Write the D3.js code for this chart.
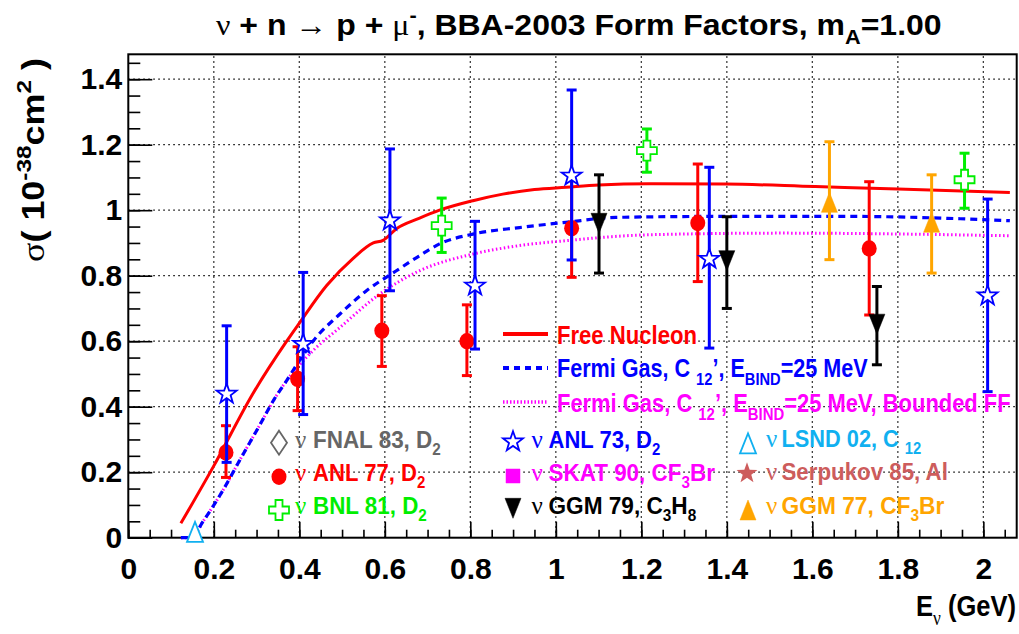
<!DOCTYPE html>
<html><head><meta charset="utf-8">
<script src="https://cdn.jsdelivr.net/npm/d3@7"></script>
<style>body{margin:0;background:#fff}text{white-space:pre}</style>
</head><body><svg id="c" width="1019" height="634"></svg>
<script>
// ---------- data ----------
const xTicksMajor = [0,0.2,0.4,0.6,0.8,1,1.2,1.4,1.6,1.8,2];
const xTickLabels = ["0","0.2","0.4","0.6","0.8","1","1.2","1.4","1.6","1.8","2"];
const yTicksMajor = [0,0.2,0.4,0.6,0.8,1,1.2,1.4];
const yTickLabels = ["0","0.2","0.4","0.6","0.8","1","1.2","1.4"];

const freeE = [0.123,0.199,0.292,0.3705,0.40,0.464,0.526,0.573,0.596,0.627,0.68,0.728,0.806,0.876,0.95,1.024,1.1,1.218,1.397,1.607,1.8,2.062];
const freeS = [0.044,0.217,0.441,0.600,0.655,0.770,0.853,0.900,0.908,0.943,0.975,1.0,1.029,1.049,1.063,1.070,1.077,1.081,1.08,1.072,1.065,1.054];

const fgE = [0.123,0.148,0.175,0.222,0.26,0.308,0.34,0.37,0.4,0.432,0.495,0.557,0.627,0.68,0.728,0.806,0.915,1.024,1.14,1.374,1.685,2.062];
const fgS = [0,0,0.05,0.146,0.235,0.345,0.42,0.479,0.54,0.6,0.683,0.754,0.815,0.86,0.897,0.927,0.947,0.963,0.978,0.981,0.981,0.968];

const bffE = [0.123,0.148,0.175,0.222,0.26,0.308,0.34,0.37,0.432,0.495,0.588,0.681,0.806,0.915,1.024,1.218,1.529,2.062];
const bffS = [0,0,0.05,0.146,0.235,0.345,0.42,0.479,0.571,0.642,0.744,0.815,0.866,0.892,0.907,0.925,0.93,0.922];

const anl73E  = [0.230,0.409,0.612,0.811,1.037,1.359,2.010];
const anl73S  = [0.439,0.591,0.968,0.769,1.105,0.851,0.739];
const anl73Lo = [0.230,0.376,0.754,0.576,0.848,0.579,0.446];
const anl73Hi = [0.647,0.810,1.187,0.966,1.367,1.131,1.034];

const anl77E  = [0.2285,0.396,0.593,0.792,1.037,1.332,1.733];
const anl77S  = [0.260,0.485,0.632,0.600,0.945,0.961,0.883];
const anl77Lo = [0.184,0.388,0.523,0.495,0.795,0.782,0.680];
const anl77Hi = [0.342,0.583,0.739,0.711,1.090,1.141,1.087];

const bnl81E  = [0.733,1.213,1.956];
const bnl81S  = [0.953,1.182,1.093];
const bnl81Lo = [0.871,1.116,1.006];
const bnl81Hi = [1.037,1.248,1.174];

const ggm79E  = [1.101,1.400,1.751];
const ggm79S  = [0.960,0.846,0.652];
const ggm79Lo = [0.808,0.700,0.528];
const ggm79Hi = [1.108,0.980,0.767];

const ggm77E  = [1.640,1.879];
const ggm77S  = [1.024,0.963];
const ggm77Lo = [0.849,0.808];
const ggm77Hi = [1.209,1.108];

const lsndE = [0.156];
const lsndS = [0.018];

// ---------- setup ----------
const SANS = "'Liberation Sans',Arial,sans-serif";
const SERIF = "'Liberation Serif','DejaVu Serif',serif";
const svg = d3.select('#c');
svg.append('rect').attr('width',1019).attr('height',634).attr('fill','#fff');

const x = d3.scaleLinear().domain([0,2.078]).range([128.3,1016.7]);
const y = d3.scaleLinear().domain([0,1.476]).range([537.7,54.3]);

function rich(g, px, py, segs, size, color, anchor){
  const t = g.append('text').attr('x',px).attr('y',py).attr('font-size',size)
    .attr('fill',color).attr('text-anchor',anchor||'start')
    .attr('font-family',SANS).attr('font-weight','bold');
  let shift = 0;
  segs.forEach(([s,m])=>{
    const ts = t.append('tspan').text(s);
    let target = 0;
    if(m.includes('sub')) target = size*0.3;
    if(m.includes('sup')) target = -size*0.42;
    ts.attr('dy', target-shift); shift = target;
    if(target!==0) ts.attr('font-size', size*0.68);
    if(m.includes('g')) ts.attr('font-family',SERIF).attr('font-weight','normal');
  });
  return t;
}
// place rich text and squeeze/stretch it horizontally to a target width
function place(parent, px, py, segs, size, color, anchor, targetW, rot){
  const g = parent.append('g');
  const t = rich(g,0,0,segs,size,color,anchor);
  const w = t.node().getBBox().width;
  const s = targetW && w>0 ? targetW/w : 1;
  g.attr('transform',`translate(${px},${py})${rot?` rotate(${rot})`:''} scale(${s},1)`);
  return g;
}

// ---------- grid ----------
const grid = svg.append('g');
xTicksMajor.slice(1).forEach(v=>{
  grid.append('line').attr('x1',x(v)).attr('x2',x(v)).attr('y1',y.range()[0]).attr('y2',y.range()[1])
    .attr('stroke','#000').attr('stroke-width',1.3).attr('stroke-dasharray','1.5,3.5');
});
yTicksMajor.slice(1).forEach(v=>{
  grid.append('line').attr('x1',x.range()[0]).attr('x2',x.range()[1]).attr('y1',y(v)).attr('y2',y(v))
    .attr('stroke','#000').attr('stroke-width',1.3).attr('stroke-dasharray','1.5,3.5');
});

// ---------- axes ----------
const xMinor = d3.range(0,2.08,0.05).map(v=>+v.toFixed(2));
const yMinor = d3.range(0,1.476,0.05).map(v=>+v.toFixed(2));
const axG = svg.append('g');
axG.append('g').attr('transform',`translate(0,${y(0)})`)
  .call(d3.axisBottom(x).tickValues(xMinor).tickSizeInner(-8).tickSizeOuter(0).tickFormat(''));
axG.append('g').attr('transform',`translate(0,${y(0)})`)
  .call(d3.axisBottom(x).tickValues(xTicksMajor).tickSizeInner(-16).tickSizeOuter(0).tickPadding(20)
    .tickFormat((d,i)=>xTickLabels[i]));
axG.append('g').attr('transform',`translate(${x(0)},0)`)
  .call(d3.axisLeft(y).tickValues(yMinor).tickSizeInner(-12).tickSizeOuter(0).tickFormat(''));
axG.append('g').attr('transform',`translate(${x(0)},0)`)
  .call(d3.axisLeft(y).tickValues(yTicksMajor).tickSizeInner(-24).tickSizeOuter(0).tickPadding(6)
    .tickFormat((d,i)=>yTickLabels[i]));
axG.selectAll('.domain').remove();
axG.selectAll('line').attr('stroke','#000').attr('stroke-width',1.6);
axG.selectAll('text').attr('font-family',SANS).attr('font-weight','bold').attr('font-size',30).attr('fill','#000');

// frame
svg.append('rect').attr('x',x.range()[0]).attr('y',y.range()[1])
  .attr('width',x.range()[1]-x.range()[0]).attr('height',y.range()[0]-y.range()[1])
  .attr('fill','none').attr('stroke','#000').attr('stroke-width',2);

// ---------- curves ----------
const line = d3.line().x(d=>x(d[0])).y(d=>y(d[1])).curve(d3.curveMonotoneX);
const curves = svg.append('g');
curves.append('path').datum(bffE.map((e,i)=>[e,bffS[i]])).attr('d',line)
  .attr('fill','none').attr('stroke','#ff00ff').attr('stroke-width',3).attr('stroke-dasharray','1.5,2.5');
curves.append('path').datum(fgE.map((e,i)=>[e,fgS[i]])).attr('d',line)
  .attr('fill','none').attr('stroke','#0000ff').attr('stroke-width',3.2).attr('stroke-dasharray','7,5');
curves.append('path').datum(freeE.map((e,i)=>[e,freeS[i]])).attr('d',line)
  .attr('fill','none').attr('stroke','#ff0000').attr('stroke-width',3);

// ---------- markers ----------
function starPath(R, r){
  let p=''; for(let k=0;k<10;k++){const a=-Math.PI/2+k*Math.PI/5; const rr=k%2?r:R; p+=(k?'L':'M')+(rr*Math.cos(a)).toFixed(2)+','+(rr*Math.sin(a)).toFixed(2);} return p+'Z';
}
const SHAPES = {
  star: starPath(10.5,4.2),
  cross: 'M-3.5,-10L3.5,-10L3.5,-3.5L10,-3.5L10,3.5L3.5,3.5L3.5,10L-3.5,10L-3.5,3.5L-10,3.5L-10,-3.5L-3.5,-3.5Z',
  tdown: 'M-8,-10L8,-10L0,10Z',
  tup: 'M0,-10L8,10L-8,10Z',
  diamond: 'M0,-12L8,0L0,12L-8,0Z',
  square: 'M-7,-7L7,-7L7,7L-7,7Z'
};
function drawMarker(g, cx, cy, kind, color, open){
  if(kind==='circle'){
    g.append('ellipse').attr('cx',cx).attr('cy',cy).attr('rx',7.5).attr('ry',8.2).attr('fill',color);
    return;
  }
  g.append('path').attr('d',SHAPES[kind]).attr('transform',`translate(${cx},${cy})`)
    .attr('fill',open?'#fff':color).attr('stroke',color).attr('stroke-width',open?1.8:0.5);
}
function series(E,S,Lo,Hi,kind,color,open){
  const g = svg.append('g');
  E.forEach((e,i)=>{
    if(Lo){
      const cx=x(e);
      g.append('line').attr('x1',cx).attr('x2',cx).attr('y1',y(Lo[i])).attr('y2',y(Hi[i])).attr('stroke',color).attr('stroke-width',3);
      [Lo[i],Hi[i]].forEach(v=>g.append('line').attr('x1',cx-5).attr('x2',cx+5).attr('y1',y(v)).attr('y2',y(v)).attr('stroke',color).attr('stroke-width',3));
    }
    drawMarker(g,x(e),y(S[i]),kind,color,open);
  });
}
series(anl77E,anl77S,anl77Lo,anl77Hi,'circle','#ff0000',false);
series(anl73E,anl73S,anl73Lo,anl73Hi,'star','#0000ff',true);
series(bnl81E,bnl81S,bnl81Lo,bnl81Hi,'cross','#00ee00',true);
series(ggm79E,ggm79S,ggm79Lo,ggm79Hi,'tdown','#000000',false);
series(ggm77E,ggm77S,ggm77Lo,ggm77Hi,'tup','#ffa500',false);
series(lsndE,lsndS,null,null,'tup','#10b0f0',true);

// ---------- legend 1 (curves) ----------
const leg = svg.append('g');
leg.append('line').attr('x1',503).attr('x2',548).attr('y1',334).attr('y2',334).attr('stroke','#ff0000').attr('stroke-width',4);
leg.append('line').attr('x1',503).attr('x2',548).attr('y1',368).attr('y2',368).attr('stroke','#0000ff').attr('stroke-width',4).attr('stroke-dasharray','6,5');
leg.append('line').attr('x1',503).attr('x2',548).attr('y1',402).attr('y2',402).attr('stroke','#ff00ff').attr('stroke-width',3.5).attr('stroke-dasharray','1.5,2');
place(leg,557,343.5,[["Free Nucleon",""]],25,'#ff0000','start',140);
place(leg,557,377,[["Fermi Gas, C ",""],["12","sub"],["\u2019, E",""],["BIND","sub"],["=25 MeV",""]],25,'#0000ff','start',311);
place(leg,557,412,[["Fermi Gas, C ",""],["12","sub"],["\u2019, E",""],["BIND","sub"],["=25 MeV, Bounded FF",""]],25,'#ff00ff','start',454);

// ---------- legend 2 (data) ----------
const legEntries = [
  {mx:279, my:442.7, kind:'diamond', color:'#666666', open:true, nx:295, tx:313, by:447.5, w:128, segs:[["FNAL 83, D",""],["2","sub"]]},
  {mx:279, my:476.7, kind:'circle',  color:'#ff0000', open:false, nx:295, tx:313, by:480.5, w:112.5, segs:[["ANL 77, D",""],["2","sub"]]},
  {mx:279, my:510,   kind:'cross',   color:'#00ee00', open:true, nx:295, tx:313, by:514, w:114, segs:[["BNL 81, D",""],["2","sub"]]},
  {mx:513, my:441.7, kind:'star',    color:'#0000ff', open:true, nx:531.5, tx:548.5, by:447.5, w:112, segs:[["ANL 73, D",""],["2","sub"]]},
  {mx:513, my:476,   kind:'square',  color:'#ff00ff', open:false, nx:531.5, tx:548.5, by:480.5, w:166.5, segs:[["SKAT 90, CF",""],["3","sub"],["Br",""]]},
  {mx:513, my:508.3, kind:'tdown',   color:'#000000', open:false, nx:531.5, tx:548.5, by:514, w:148, segs:[["GGM 79, C",""],["3","sub"],["H",""],["8","sub"]]},
  {mx:748, my:443.3, kind:'tup',     color:'#10b0f0', open:true, nx:766, tx:781.5, by:447, w:140, segs:[["LSND 02, C ",""],["12","sub"]]},
  {mx:747, my:473.3, kind:'fstar',   color:'#cd5c5c', open:false, nx:766, tx:781.5, by:479.5, w:166.5, segs:[["Serpukov 85, Al",""]]},
  {mx:748, my:510,   kind:'tup',     color:'#ffa500', open:false, nx:766, tx:781.5, by:513.5, w:163, segs:[["GGM 77, CF",""],["3","sub"],["Br",""]]}
];
const leg2 = svg.append('g');
legEntries.forEach(e=>{
  if(e.kind==='fstar') leg2.append('path').attr('d',starPath(11,4.5)).attr('transform',`translate(${e.mx},${e.my})`).attr('fill',e.color);
  else drawMarker(leg2,e.mx,e.my,e.kind,e.color,e.open);
  rich(leg2,e.nx,e.by,[["\u03bd","g"]],25,e.color);
  place(leg2,e.tx,e.by,e.segs,23.5,e.color,'start',e.w);
});

// ---------- titles ----------
place(svg,216,34.5,[["\u03bd","g"],[" + n ",""],["\u2192","g"],[" p + ",""],["\u03bc","g"],["-","sup"],[", BBA-2003 Form Factors, m",""],["A","sub"],["=1.00",""]],30,'#000','start',726);
place(svg,44,58,[["\u03c3","g"],["( 10",""],["-38","sup"],["cm",""],["2","sup"],[" )",""]],31,'#000','end',204,-90);
place(svg,1016,616,[["E",""],["\u03bd","g sub"],[" (GeV)",""]],30,'#000','end',100);
</script></body></html>
